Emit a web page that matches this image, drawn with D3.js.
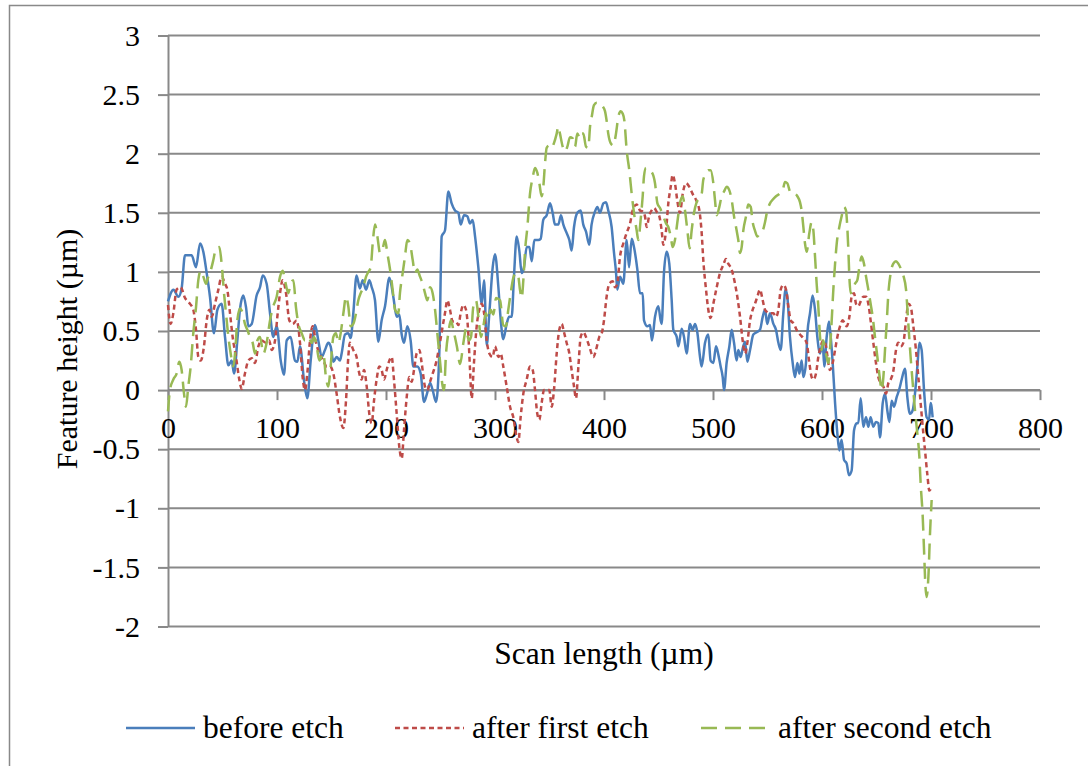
<!DOCTYPE html>
<html>
<head>
<meta charset="utf-8">
<script src="https://cdn.jsdelivr.net/npm/d3@7"></script>
<style>
  body { margin: 0; background: #fff; }
  svg, svg text { font-family: "Times New Roman", "Liberation Serif", Tinos, "DejaVu Serif", serif; }
</style>
</head>
<body>
<div id="chart"></div>
<script>
// surface profile before and after etching
// x = scan length (um), y = feature height (um)

const xTicks = [0, 100, 200, 300, 400, 500, 600, 700, 800]
const yTicks = [-2, -1.5, -1, -0.5, 0, 0.5, 1, 1.5, 2, 2.5, 3]
const seriesNames = ["before etch", "after first etch", "after second etch"]

// [scan length, height] pairs
const beforeEtch = [[0,0.75],[5,0.85],[9.5,0.79],[12.5,0.86],[15.6,1.14],[21.7,1.14],[25.7,1.04],[29.4,1.24],[32.4,1.17],[35.5,0.99],[38.5,0.79],[42.2,0.48],[45.3,0.68],[49.2,0.73],[52.3,0.45],[55.4,0.21],[58.4,0.25],[60.6,0.14],[63.6,0.42],[66,0.68],[69.1,0.8],[71.6,0.7],[73.7,0.54],[76.8,0.56],[81.3,0.8],[84.4,0.87],[86.9,0.97],[90.5,0.9],[93.6,0.65],[96.6,0.45],[99.7,0.54],[103.4,0.25],[106.4,0.13],[108.9,0.42],[112.5,0.45],[116.5,0.25],[118.7,0.24],[121.1,0.37],[124.8,0.08],[127.8,-0.07],[130.9,0.25],[134.9,0.55],[137.9,0.42],[141,0.28],[144,0.34],[147.1,0.4],[149.2,0.37],[151.7,0.24],[154.7,0.28],[157.8,0.25],[159.3,0.31],[162.4,0.47],[165.4,0.48],[167.6,0.44],[170,0.65],[173,0.97],[176.1,0.86],[178.6,0.93],[181.7,0.85],[184.7,0.93],[186.9,0.87],[189.9,0.76],[193,0.41],[196,0.59],[199.1,0.71],[203.1,0.95],[206.7,0.79],[209.8,0.62],[212.2,0.64],[214.4,0.47],[216.5,0.4],[219.6,0.54],[222.6,0.42],[225.1,0.2],[228.7,0.2],[231.8,0.14],[234.9,-0.1],[237.3,-0.04],[240.4,0.06],[242.8,0],[245.9,-0.1],[248.9,0.31],[251.1,1.3],[254.1,1.35],[257.2,1.68],[260.2,1.58],[263.3,1.52],[266.4,1.5],[268.5,1.4],[271.6,1.48],[274.6,1.47],[277.1,1.41],[279.5,1.44],[281.7,1.3],[284.7,1.04],[287.8,0.73],[290,0.93],[292.4,0.38],[294.8,0.65],[297.9,1.04],[300,1.15],[303.1,0.87],[305.2,0.6],[307.6,0.43],[310.7,0.56],[313,0.62],[315.3,0.62],[317.4,0.96],[319.9,1.3],[322.3,1.18],[324.5,0.99],[326.6,1.04],[329.1,1.21],[331.5,1.21],[333.7,1.09],[336.1,1.27],[339.8,1.27],[341.9,1.28],[344.3,1.44],[347.4,1.48],[350.5,1.58],[352.9,1.5],[355,1.4],[358.1,1.4],[360.5,1.48],[362.7,1.4],[365.7,1.33],[368.2,1.27],[370.3,1.18],[372.5,1.38],[375.5,1.5],[378.6,1.52],[381,1.4],[383.5,1.34],[386.5,1.23],[388.6,1.4],[391.7,1.51],[393.9,1.55],[396.3,1.5],[399.4,1.58],[401.8,1.59],[403.9,1.52],[407,1.38],[409.2,1.16],[411,1],[412.2,0.85],[414.7,0.96],[417.7,0.9],[420.8,1.27],[423,1.04],[425.4,1.28],[427.5,1.21],[430.6,1.02],[433,0.82],[435.5,0.82],[436.7,0.59],[439.8,0.54],[442.2,0.55],[444,0.42],[446.8,0.62],[449.8,0.71],[452,0.59],[452.9,0.56],[455,0.99],[457.5,1.17],[459.9,1.07],[462.1,0.76],[463.6,0.51],[466.7,0.45],[468.2,0.37],[471.3,0.52],[473.4,0.45],[475.8,0.31],[478.9,0.56],[481.3,0.51],[483.5,0.56],[485.6,0.49],[488.1,0.28],[489.6,0.2],[492.7,0.4],[495.7,0.47],[497.8,0.25],[500.3,0.23],[502.8,0.37],[504.9,0.3],[507,0.2],[508.9,0.11],[510.1,0],[512.5,0.23],[515,0.37],[517.1,0.51],[519.3,0.4],[521.7,0.25],[523.2,0.34],[525.4,0.28],[527.2,0.35],[529.4,0.41],[531.5,0.24],[534,0.34],[537,0.47],[540.1,0.49],[543.1,0.51],[545.6,0.62],[547.7,0.68],[549.8,0.56],[552.3,0.65],[555.4,0.56],[557.8,0.51],[560,0.4],[562.1,0.34],[564.5,0.65],[566.5,0.85],[568.2,0.79],[570.6,0.45],[573.1,0.23],[575.2,0.11],[577.4,0.23],[579.2,0.14],[581.3,0.25],[582.9,0.11],[585.3,0.23],[586.6,0.48],[589,0.65],[591.4,0.8],[593.6,0.68],[595.7,0.45],[598.2,0.31],[600.6,0.4],[602.1,0.2],[604.3,0.45],[606.4,0.58],[608,0.45],[609.8,0.23],[612,-0.11],[614.1,-0.37],[615.9,-0.51],[618,-0.42],[620.2,-0.59],[622.6,-0.62],[624.8,-0.72],[627.2,-0.68],[629.4,-0.34],[631.8,-0.28],[633.3,-0.28],[635.5,-0.07],[637.9,-0.31],[640.4,-0.23],[642.5,-0.31],[644.6,-0.23],[647.1,-0.31],[649.5,-0.27],[651.7,-0.28],[653.2,-0.4],[655.7,-0.11],[657.8,-0.03],[659.9,-0.17],[661.8,-0.27],[663.9,-0.09],[666.1,-0.14],[668.5,-0.06],[671,0.01],[673.1,0.09],[676.1,0.18],[678.3,-0.06],[680.7,-0.2],[683.2,-0.17],[685.3,-0.03],[687.5,0.2],[689.3,0.4],[691.4,0.34],[693.6,0],[696,-0.23],[698.2,-0.25],[699.7,-0.11],[701.5,-0.23]]

const afterFirstEtch = [[0,0.72],[2.4,0.56],[4.9,0.65],[7.9,0.85],[11.6,0.87],[15.6,0.78],[20.2,0.73],[23.2,0.68],[25.7,0.51],[27.8,0.28],[30,0.25],[33,0.37],[35.5,0.59],[37.9,0.68],[40.1,0.62],[43.1,0.73],[46.2,0.85],[49.2,0.96],[52.3,0.9],[54.4,0.85],[56.9,0.65],[59.3,0.45],[62.4,0.28],[65.4,0.09],[67.6,0.01],[70.6,0.14],[73.7,0.25],[76.8,0.27],[79.8,0.23],[82.9,0.37],[85.9,0.42],[89.9,0.4],[92.9,0.42],[95.1,0.34],[98.2,0.42],[100.3,0.62],[102.8,0.82],[105.2,0.93],[108.3,0.82],[111.3,0.59],[114.4,0.56],[118,0.59],[121.1,0.4],[123.5,0.11],[125.7,0],[127.8,0.14],[130.3,0.42],[132.7,0.54],[135.8,0.4],[138.8,0.31],[142.5,0.25],[145.5,0.2],[148.6,0.2],[151.7,0.14],[154.7,-0.03],[157.8,-0.23],[160.9,-0.32],[163.3,-0.09],[165.4,0.28],[166.9,0.4],[170,0.34],[173,0.28],[175.5,0.14],[177.6,0.09],[179.8,0.17],[182.3,0.03],[184.7,-0.2],[186.9,-0.28],[189,-0.09],[191.4,0.09],[193.9,0.2],[196,0.17],[198.2,0.09],[200.6,0.17],[203.1,0.25],[205.2,0.28],[207.3,0.09],[209.8,-0.2],[212.2,-0.48],[214.4,-0.58],[216.5,-0.34],[219,-0.06],[221.4,0.11],[223.5,0.07],[225.7,0.17],[228.1,0.31],[230.6,0.34],[232.7,0.23],[235.8,0.03],[237.9,0],[240.4,0.07],[242.8,0.14],[245.9,0.23],[248.9,0.37],[252,0.54],[254.1,0.65],[256.3,0.76],[258.7,0.68],[261.2,0.58],[264.2,0.58],[266.4,0.55],[268.5,0.65],[270.9,0.72],[273.4,0.68],[275.5,0.48],[277.1,0.17],[278.6,-0.07],[280.7,0.23],[283.2,0.54],[285.6,0.68],[287.8,0.73],[290,0.65],[292.4,0.42],[294.8,0.31],[297.9,0.28],[300,0.37],[303.1,0.28],[305.2,0.31],[307.6,0.2],[310.7,0.03],[313.8,-0.14],[316.8,-0.23],[319.9,-0.4],[321.4,-0.44],[323.5,-0.23],[326,-0.03],[329.1,0.09],[332.1,0.2],[334.6,0.17],[336.7,0],[338.8,-0.2],[340.7,-0.25],[342.8,-0.11],[345,0],[347.4,0],[349.8,0],[352,-0.14],[354.1,0],[356.6,0.31],[359,0.51],[361.2,0.56],[363.3,0.49],[365.7,0.4],[368.2,0.31],[370.3,0.17],[372.5,0.03],[374.3,-0.07],[376.5,0.2],[378.6,0.45],[381,0.49],[383.5,0.45],[386.5,0.37],[390.2,0.28],[392.7,0.34],[395.7,0.45],[397.9,0.48],[400,0.59],[402.4,0.79],[404.9,0.9],[408,0.92],[410.1,0.87],[412.2,0.9],[414.7,1.13],[417.7,1.24],[420.8,1.33],[423.9,1.41],[426.9,1.54],[430,1.57],[433,1.52],[435.5,1.51],[437.6,1.47],[439.1,1.38],[441.6,1.48],[443.7,1.52],[445.9,1.54],[448.3,1.51],[450.8,1.47],[452.9,1.35],[454.4,1.23],[456.9,1.35],[459,1.58],[461.2,1.72],[463,1.82],[465.1,1.75],[467.3,1.6],[469.7,1.5],[472.2,1.66],[475.2,1.75],[478.3,1.72],[481.3,1.66],[484.4,1.61],[487.5,1.52],[489.6,1.33],[491.1,1.1],[493.6,0.85],[495.7,0.68],[497.8,0.61],[500.3,0.73],[503.4,0.87],[506.4,0.99],[509.5,1.06],[511.9,1.11],[514,1.07],[517.1,1.02],[520.2,0.9],[522.3,0.79],[524.8,0.62],[527.2,0.42],[529.4,0.31],[531.5,0.4],[534,0.59],[536.4,0.68],[538.5,0.73],[540.7,0.79],[543.1,0.85],[545.6,0.76],[547.7,0.68],[549.8,0.66],[552.3,0.65],[555.4,0.65],[557.8,0.62],[560,0.68],[562.1,0.85],[564.5,0.89],[567,0.85],[569.1,0.71],[571.3,0.59],[574.3,0.56],[576.7,0.51],[579.8,0.47],[582.9,0.44],[585.9,0.4],[588.4,0.23],[590.5,0.11],[592.1,0.09],[594.5,0.14],[596.6,0.28],[598.8,0.37],[601.2,0.42],[603.7,0.37],[605.8,0.23],[607.3,0.17],[609.8,0.23],[612,0.34],[614.1,0.45],[616.5,0.54],[619,0.59],[621.1,0.56],[622.6,0.54],[625.1,0.62],[627.2,0.79],[629.4,0.82],[631.2,0.73],[633.3,0.71],[635.5,0.75],[637.9,0.79],[640.4,0.79],[642.5,0.73],[644.6,0.59],[647.1,0.4],[649.5,0.23],[651.7,0.11],[653.8,0.06],[656.3,0.03],[658.7,-0.03],[660.9,0.06],[663,0.09],[665.4,0.16],[667.9,0.34],[670,0.4],[672.2,0.37],[674.6,0.4],[677.1,0.59],[679.2,0.73],[681.3,0.71],[683.8,0.54],[686.2,0.34],[688.4,0.11],[690.5,-0.11],[692.4,-0.31],[694.5,-0.51],[696.6,-0.71],[698.5,-0.85],[700.6,-0.82]]

const afterSecondEtch = [[0,-0.18],[1.8,0],[4.9,0.09],[7.9,0.14],[10.4,0.24],[12.5,0.17],[14.7,-0.03],[16.5,-0.14],[18.6,0.03],[20.8,0.2],[23.2,0.48],[25.7,0.7],[27.8,0.93],[30,1.01],[32.4,0.96],[34.9,0.9],[37,0.96],[39.1,1.01],[41.6,1.1],[44,1.2],[47.1,1.21],[49.2,1.07],[51.4,0.82],[53.2,0.65],[55.4,0.45],[57.5,0.31],[59.9,0.2],[61.5,0.31],[63.6,0.59],[66,0.69],[68.5,0.65],[70.6,0.56],[72.8,0.51],[75.2,0.45],[77.7,0.4],[79.8,0.31],[82,0.42],[84.4,0.45],[87.5,0.31],[90.5,0.4],[93.6,0.59],[96.6,0.71],[99.7,0.79],[102.8,0.96],[105.2,1.01],[107.3,0.93],[110.4,0.82],[112.5,0.9],[115,0.93],[117.4,0.7],[119.6,0.56],[122.7,0.48],[125.7,0.42],[128.7,0.45],[131.8,0.4],[134,0.45],[136.4,0.37],[138.8,0.25],[142.5,0.31],[144.9,0.11],[147.1,0.03],[149.2,0.2],[151.7,0.45],[154.1,0.48],[156.3,0.4],[158.4,0.48],[160.9,0.65],[163.3,0.79],[165.4,0.71],[167.6,0.54],[170,0.56],[172.5,0.65],[174.6,0.76],[176.8,0.82],[179.2,0.87],[181.7,0.96],[183.8,1],[186,1.04],[187.8,1.24],[189.9,1.4],[192.1,1.3],[194.5,1.16],[197,1.2],[199.1,1.27],[201.2,1.16],[203.7,1.02],[206.1,0.85],[208.3,0.68],[211.3,0.65],[212.8,0.82],[215.3,0.99],[217.4,1.13],[219.6,1.27],[222,1.24],[224.5,1.1],[226.6,0.99],[228.7,1.02],[231.2,0.96],[233.6,0.9],[235.8,0.82],[237.9,0.76],[240.4,0.87],[242.8,0.82],[245,0.68],[247.1,0.48],[249.5,0.25],[252,0.03],[253.2,0],[255,0.3],[257.5,0.5],[259.5,0.59],[262,0.5],[265,0.37],[268,0.22],[271,0.4],[273.5,0.52],[276,0.42],[278,0.45],[280,0.7],[282.5,0.76],[285,0.6],[287,0.45],[289.5,0.55],[291.5,0.65],[294,0.6],[296,0.68],[298.5,0.64],[301,0.78],[304.6,0.76],[307.6,0.55],[310,0.54],[312.2,0.68],[314.4,0.82],[316.8,0.95],[319.3,0.99],[321.4,0.96],[322.9,0.85],[324.5,0.78],[326,0.93],[327.6,1.18],[329.7,1.38],[332.1,1.66],[334.6,1.8],[336.7,1.88],[338.8,1.84],[340.7,1.75],[342.8,1.64],[344.3,1.72],[345.9,1.92],[347.4,2.05],[349.8,2.07],[352,2.05],[354.1,2.09],[356.6,2.17],[358.1,2.23],[359.6,2.17],[362.1,2.06],[364.2,2.02],[366.4,2.06],[368.8,2.14],[371.3,2.13],[373.4,2.06],[375.5,2.17],[378,2.13],[379.5,2.17],[381,2.17],[383.5,2.06],[385.6,2.05],[387.2,2.23],[388.7,2.31],[390.8,2.41],[393.3,2.43],[396.3,2.43],[398.8,2.4],[400.9,2.36],[402.4,2.28],[403.9,2.17],[406.1,2.09],[408.6,2.07],[411,2.17],[413.1,2.31],[415.3,2.36],[417.1,2.34],[418.7,2.28],[420.8,2.03],[423.2,1.86],[425.4,1.66],[427.5,1.5],[430,1.35],[431.5,1.27],[433.6,1.44],[435.5,1.64],[436.7,1.81],[438.5,1.88],[441.6,1.86],[444.6,1.83],[446.8,1.75],[449,1.58],[451.4,1.54],[454.4,1.47],[456.9,1.41],[459,1.38],[461.2,1.3],[463,1.21],[465.1,1.27],[467.3,1.42],[469.7,1.58],[472.2,1.64],[474.3,1.52],[476.5,1.35],[478.6,1.2],[480.4,1.35],[482.6,1.5],[485,1.59],[487.5,1.63],[489.6,1.66],[491.1,1.78],[493.6,1.83],[495.7,1.86],[497.8,1.86],[500.3,1.75],[501.8,1.61],[503.4,1.48],[505.8,1.55],[507.9,1.64],[510.1,1.68],[512.5,1.72],[515,1.69],[517.1,1.61],[519.3,1.47],[521.7,1.35],[523.2,1.27],[524.8,1.16],[526.3,1.21],[527.8,1.35],[530.3,1.47],[532.4,1.57],[534.6,1.55],[536.4,1.42],[538.5,1.35],[540.7,1.3],[543.1,1.33],[545.6,1.35],[547.7,1.42],[549.8,1.52],[552.3,1.58],[554.7,1.61],[557.8,1.64],[560.9,1.66],[563.9,1.69],[566.1,1.76],[568.2,1.75],[570.6,1.68],[573.1,1.66],[575.2,1.66],[577.4,1.64],[579.8,1.59],[581.3,1.52],[582.9,1.38],[584.4,1.24],[585.9,1.17],[588.4,1.33],[590.5,1.42],[592.1,1.35],[593.6,1.13],[595.1,0.9],[596.6,0.71],[598.2,0.45],[599.7,0.34],[601.2,0.42],[602.8,0.34],[604.3,0.28],[605.8,0.23],[607.3,0.34],[608.9,0.59],[610.4,0.85],[612,1.07],[613.5,1.24],[615.9,1.38],[618,1.47],[620.2,1.55],[622,1.52],[623.2,1.38],[624.2,1.18],[625.1,0.96],[626.3,0.82],[628.1,0.85],[630.3,0.9],[632.4,0.93],[634.3,1.04],[636.4,1.13],[638.5,1.07],[640.4,0.96],[642.5,0.85],[644.6,0.73],[646.5,0.62],[648.6,0.45],[650.8,0.28],[653.2,0.09],[654.7,0],[656.3,0.11],[657.8,0.34],[659.3,0.56],[660.9,0.82],[663,0.99],[665.4,1.07],[667.9,1.09],[670,1.07],[672.2,1.03],[674.6,0.97],[677.1,0.85],[679.2,0.56],[681.3,0.28],[683.2,0.06],[685.3,-0.17],[687.5,-0.37],[689.3,-0.56],[690.5,-0.79],[692.4,-1.07],[693.6,-1.35],[694.8,-1.64],[696,-1.75],[697.6,-1.58],[699.1,-1.21],[700.6,-0.93]]

const W = 1088, H = 766
const margin = { top: 35.5, right: 48, bottom: 139.5, left: 168 }
const plotW = W - margin.left - margin.right
const plotH = H - margin.top - margin.bottom

const fontStack = "'Times New Roman', 'Liberation Serif', Tinos, 'DejaVu Serif', serif"
const gridColor = "#898989"
const seriesStyle = [
  { data: beforeEtch,      color: "#4a7ebb", dash: null },
  { data: afterFirstEtch,  color: "#be4b48", dash: "5,3.5" },
  { data: afterSecondEtch, color: "#98b954", dash: "16,8" }
]

const svg = d3.select("#chart")
  .append("svg")
  .attr("width", W)
  .attr("height", H)
  .attr("font-family", fontStack)

// outer chart border (only top and left edges fall inside the picture)
svg.append("rect")
  .attr("x", 9.5).attr("y", 5.5)
  .attr("width", W).attr("height", H)
  .attr("fill", "#fff")
  .attr("stroke", gridColor).attr("stroke-width", 1.5)

const g = svg.append("g")
  .attr("transform", `translate(${margin.left},${margin.top})`)

const x = d3.scaleLinear().domain([0, 800]).range([0, plotW])
const y = d3.scaleLinear().domain([-2, 3]).range([plotH, 0])

// horizontal gridlines
g.append("g")
  .selectAll("line")
  .data(yTicks)
  .join("line")
  .attr("x1", 0).attr("x2", plotW)
  .attr("y1", d => y(d)).attr("y2", d => y(d))
  .attr("stroke", gridColor).attr("stroke-width", 2)

// y axis: vertical line, ticks to the left, labels
const yAxis = g.append("g")
  .call(d3.axisLeft(y).tickValues(yTicks).tickSize(10).tickSizeOuter(0)
    .tickPadding(18).tickFormat(d => String(d)))
  .attr("font-family", fontStack)

yAxis.select(".domain").attr("stroke", gridColor).attr("stroke-width", 2)
yAxis.selectAll(".tick line").attr("stroke", gridColor).attr("stroke-width", 2)
yAxis.selectAll("text")
  .attr("font-family", fontStack)
  .style("font-size", "30px").style("fill", "#000")

// x axis sits on the zero line
const xAxis = g.append("g")
  .attr("transform", `translate(0,${y(0)})`)
  .call(d3.axisBottom(x).tickValues(xTicks).tickSize(10).tickSizeOuter(0)
    .tickFormat(d => String(d)))
  .attr("font-family", fontStack)

xAxis.select(".domain").attr("stroke", gridColor).attr("stroke-width", 2)
xAxis.selectAll(".tick line").attr("stroke", gridColor).attr("stroke-width", 2)
xAxis.selectAll("text")
  .attr("y", 48).attr("dy", 0)
  .attr("font-family", fontStack)
  .style("font-size", "30px").style("fill", "#000")

// the three profiles, drawn in series order so the last one is on top
const line = d3.line()
  .x(d => x(d[0]))
  .y(d => y(d[1]))
  .curve(d3.curveMonotoneX)

seriesStyle.forEach(s => {
  g.append("path")
    .datum(s.data)
    .attr("d", line)
    .attr("fill", "none")
    .attr("stroke", s.color)
    .attr("stroke-width", 2.5)
    .attr("stroke-linejoin", "round")
    .attr("stroke-dasharray", s.dash)
})

// axis titles
svg.append("text")
  .attr("x", margin.left + plotW / 2).attr("y", 664)
  .attr("text-anchor", "middle")
  .attr("font-family", fontStack)
  .style("font-size", "31.5px").style("fill", "#000")
  .text("Scan length (µm)")

svg.append("text")
  .attr("transform", "translate(77,349) rotate(-90)")
  .attr("text-anchor", "middle")
  .attr("font-family", fontStack)
  .style("font-size", "30px").style("fill", "#000")
  .text("Feature height (µm)")

// legend along the bottom
const legendX = [126, 395, 701]
const legend = svg.append("g").attr("transform", "translate(0,728)")

seriesStyle.forEach((s, i) => {
  legend.append("line")
    .attr("x1", legendX[i]).attr("x2", legendX[i] + 69)
    .attr("y1", 0).attr("y2", 0)
    .attr("stroke", s.color).attr("stroke-width", 2.5)
    .attr("stroke-dasharray", s.dash)

  legend.append("text")
    .attr("x", legendX[i] + 77).attr("y", 10)
    .attr("font-family", fontStack)
    .style("font-size", "31.5px").style("fill", "#000")
    .text(seriesNames[i])
})
</script>
</body>
</html>
